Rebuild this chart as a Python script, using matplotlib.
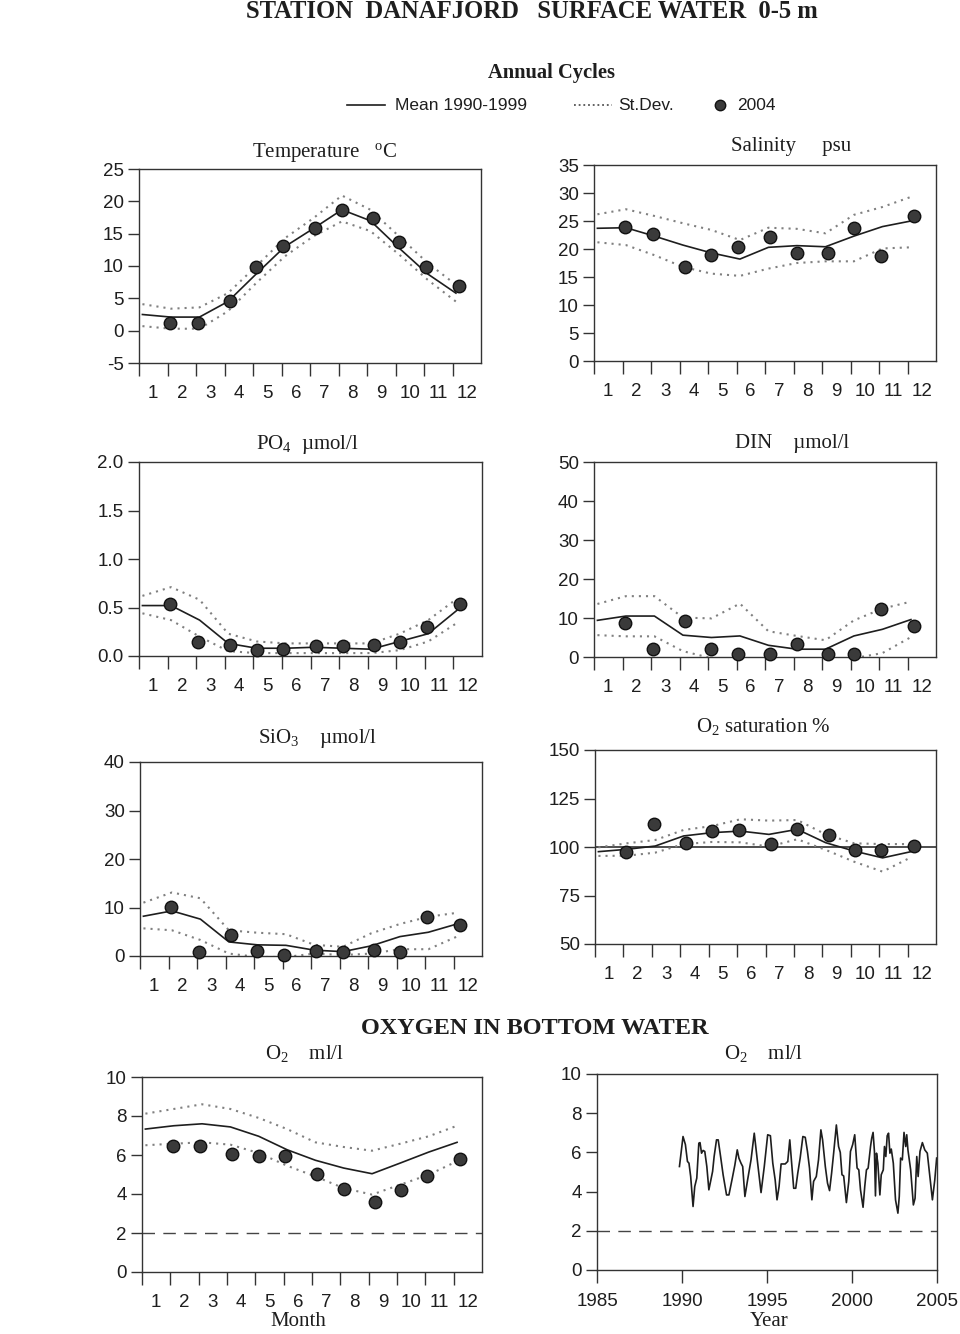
import matplotlib
matplotlib.use("Agg")
import matplotlib.pyplot as plt
from matplotlib.lines import Line2D

plt.rcParams['font.family'] = ['Liberation Sans', 'DejaVu Sans']
plt.rcParams['mathtext.fontset'] = 'custom'
plt.rcParams['mathtext.rm'] = 'Liberation Serif'
plt.rcParams['mathtext.it'] = 'Liberation Serif:italic'
plt.rcParams['axes.unicode_minus'] = False

# month positions: mean 1990-1999 and 2004 sampling dates
mean_x = [0.12, 1.12, 2.12, 3.12, 4.12, 5.12, 6.12, 7.12, 8.12, 9.12, 10.12, 11.12]
obs_x = [1.08, 2.06, 3.19, 4.12, 5.05, 6.19, 7.12, 8.22, 9.14, 10.06, 11.24]
month_labels = ['1', '2', '3', '4', '5', '6', '7', '8', '9', '10', '11', '12']

# temperature oC
temp_mean = [2.5, 2.1, 2.1, 4.5, 8.8, 13.0, 15.8, 18.7, 17.0, 12.8, 8.8, 5.8]
temp_up = [4.1, 3.4, 3.6, 5.8, 10.0, 14.3, 17.4, 20.9, 18.7, 14.6, 10.5, 7.1]
temp_lo = [0.7, 0.3, 0.3, 3.0, 7.4, 11.5, 14.6, 16.9, 15.4, 11.8, 7.9, 4.5]
temp_2004 = [1.2, 1.2, 4.6, 9.9, 13.1, 15.9, 18.6, 17.4, 13.7, 9.8, 6.9]

# salinity psu
sal_mean = [23.7, 23.8, 22.3, 20.7, 19.3, 18.2, 20.3, 20.6, 20.4, 22.3, 24.0, 25.0]
sal_up = [26.2, 27.1, 25.9, 24.6, 23.4, 21.6, 23.8, 23.6, 22.8, 26.1, 27.5, 29.3]
sal_lo = [21.2, 20.7, 18.9, 16.8, 15.6, 15.2, 16.5, 17.5, 17.8, 17.8, 20.1, 20.3]
sal_2004 = [24.0, 22.6, 16.8, 19.0, 20.3, 22.1, 19.2, 19.3, 23.7, 18.8, 25.9]

# PO4 umol/l
po4_mean = [0.52, 0.52, 0.37, 0.13, 0.08, 0.08, 0.09, 0.08, 0.07, 0.15, 0.23, 0.47]
po4_up = [0.62, 0.71, 0.58, 0.23, 0.15, 0.13, 0.13, 0.13, 0.13, 0.23, 0.37, 0.59]
po4_lo = [0.44, 0.37, 0.20, 0.05, 0.03, 0.03, 0.03, 0.03, 0.03, 0.06, 0.15, 0.34]
po4_2004 = [0.54, 0.14, 0.11, 0.06, 0.07, 0.10, 0.10, 0.11, 0.14, 0.30, 0.54]

# DIN umol/l
din_mean = [9.4, 10.5, 10.5, 5.6, 5.0, 5.4, 3.0, 2.0, 2.0, 5.4, 7.1, 9.6]
din_up = [13.6, 15.6, 15.6, 10.1, 9.9, 13.7, 6.6, 5.4, 4.3, 9.4, 12.4, 14.2]
din_lo = [5.6, 5.3, 5.3, 1.5, -0.3, -0.5, -0.5, -0.5, -0.5, -0.3, 1.0, 5.1]
din_2004 = [8.6, 2.1, 9.3, 2.0, 0.7, 0.7, 3.3, 0.7, 0.7, 12.4, 7.9]

# SiO3 umol/l
sio_mean = [8.2, 9.3, 7.6, 2.9, 2.3, 2.2, 1.2, 0.9, 2.1, 4.0, 4.9, 6.6]
sio_up = [11.0, 13.1, 11.9, 5.3, 4.8, 4.5, 2.3, 1.9, 4.7, 6.6, 8.1, 8.9]
sio_lo = [5.7, 5.3, 3.3, 0.5, -0.2, -0.2, 0.5, 0.2, 0.5, 1.4, 1.4, 4.0]
sio_2004 = [10.2, 0.75, 4.3, 1.1, 0.3, 1.1, 0.75, 1.2, 0.9, 8.0, 6.4]

# O2 saturation %
sat_mean = [97.6, 98.8, 100.5, 105.7, 107.4, 108.2, 106.5, 109.1, 102.2, 97.9, 94.4, 97.6]
sat_up = [99.8, 101.9, 103.6, 108.8, 110.8, 114.3, 113.6, 113.9, 106.5, 101.9, 101.5, 101.5]
sat_lo = [95.4, 95.5, 97.1, 101.5, 102.6, 102.4, 100.2, 104.0, 98.5, 92.4, 87.3, 94.7]
sat_2004 = [97.3, 111.9, 101.9, 108.4, 108.8, 101.5, 109.3, 106.2, 98.5, 98.5, 100.7]

# bottom water O2 ml/l
o2b_mean = [7.33, 7.5, 7.6, 7.44, 6.96, 6.27, 5.73, 5.33, 5.04, 5.59, 6.15, 6.65]
o2b_up = [8.12, 8.36, 8.6, 8.36, 7.9, 7.33, 6.65, 6.41, 6.22, 6.58, 6.96, 7.5]
o2b_lo = [6.5, 6.58, 6.65, 6.53, 6.1, 5.45, 4.9, 4.3, 3.97, 4.48, 4.99, 5.68]
o2b_2004 = [6.48, 6.44, 6.07, 5.97, 5.97, 5.03, 4.27, 3.59, 4.19, 4.9, 5.79]

# bottom water O2 ml/l time series
ts_year = [1989.85, 1990.06, 1990.2, 1990.32, 1990.41, 1990.51, 1990.65, 1990.75, 1990.87, 1990.99,
           1991.06, 1991.15, 1991.24, 1991.34, 1991.46, 1991.58, 1991.7, 1991.8, 1991.89, 1992.03,
           1992.13, 1992.27, 1992.42, 1992.62, 1992.76, 1992.96, 1993.11, 1993.25, 1993.35, 1993.47,
           1993.57, 1993.7, 1993.86, 1994.06, 1994.25, 1994.45, 1994.65, 1994.84, 1995.04, 1995.2,
           1995.34, 1995.48, 1995.59, 1995.71, 1995.83, 1996.07, 1996.22, 1996.34, 1996.45, 1996.57,
           1996.69, 1996.81, 1996.95, 1997.11, 1997.25, 1997.38, 1997.5, 1997.64, 1997.74, 1997.9,
           1998.03, 1998.17, 1998.27, 1998.43, 1998.56, 1998.68, 1998.8, 1998.92, 1999.08, 1999.21,
           1999.31, 1999.41, 1999.51, 1999.67, 1999.81, 1999.91, 2000.04, 2000.16, 2000.3, 2000.4,
           2000.5, 2000.65, 2000.75, 2000.85, 2000.95, 2001.09, 2001.16, 2001.24, 2001.32, 2001.38,
           2001.44, 2001.52, 2001.64, 2001.72, 2001.84, 2001.91, 2001.99, 2002.07, 2002.15, 2002.23,
           2002.31, 2002.43, 2002.56, 2002.7, 2002.78, 2002.86, 2002.96, 2003.06, 2003.16, 2003.22,
           2003.29, 2003.45, 2003.61, 2003.71, 2003.81, 2003.89, 2004.0, 2004.14, 2004.28, 2004.43,
           2004.59, 2004.73, 2004.87, 2004.98]
ts_o2 = [5.28, 6.81, 6.4, 5.54, 5.45, 4.77, 3.24, 4.26, 4.69, 6.47,
         6.5, 5.96, 6.1, 6.05, 5.28, 4.09, 4.6, 5.03, 5.79, 6.64,
         6.64, 5.79, 4.85, 3.83, 3.83, 4.69, 5.36, 6.13, 5.7, 5.45,
         5.28, 3.75, 4.6, 5.62, 6.98, 5.45, 3.95, 5.28, 6.9, 6.85,
         5.45, 4.6, 3.58, 4.26, 5.41, 5.41, 5.54, 6.64, 5.45, 4.17,
         4.17, 4.94, 5.71, 6.81, 6.77, 6.05, 5.2, 3.58, 4.52, 4.77,
         5.62, 7.15, 6.64, 5.28, 4.43, 4.05, 4.94, 5.96, 7.4, 6.3,
         6.0, 4.86, 4.8, 3.44, 4.52, 6.05, 6.4, 6.9, 5.2, 5.11,
         4.09, 3.2, 4.26, 5.11, 5.2, 6.3, 6.73, 7.02, 6.05, 3.78,
         5.96, 5.45, 3.83, 4.86, 5.11, 6.3, 5.79, 6.85, 6.98, 5.96,
         6.17, 5.45, 3.58, 2.9, 3.75, 5.71, 5.62, 7.02, 6.3, 6.9,
         6.13, 5.11, 3.32, 3.66, 5.79, 4.77, 6.05, 6.5, 6.13, 5.96,
         4.69, 3.58, 4.6, 5.71]

W, H = 960, 1334
fig = plt.figure(figsize=(W / 100, H / 100), dpi=100)

SERIF = 'Liberation Serif'
INK = '#1e1e1e'
DOT_STYLE = (0, (1, 2.4))
TICK_FS = 13.5


def rect(l, r, t, b):
    return [l / W, 1 - b / H, (r - l) / W, (b - t) / H]


def style_axes(ax):
    for s in ax.spines.values():
        s.set_color('#333333')
        s.set_linewidth(1.0)
    ax.tick_params(axis='both', direction='out', colors='#333333', labelcolor=INK,
                   labelsize=TICK_FS, width=1.0)
    ax.tick_params(axis='x', which='major', length=9.5, pad=7)
    ax.tick_params(axis='y', which='major', length=8, pad=3)


def month_panel(box, mean, up, lo, obs, ylim, yticks, ylabels=None):
    ax = fig.add_axes(rect(*box))
    ax.plot(mean_x, up, ls=DOT_STYLE, color='#808080', lw=1.5)
    ax.plot(mean_x, lo, ls=DOT_STYLE, color='#808080', lw=1.5)
    ax.plot(mean_x, mean, color=INK, lw=1.2)
    ax.plot(obs_x, obs, 'o', ms=9, mfc='#3a3a3a', mec='#111111', mew=1.0,
            clip_on=False, zorder=5)
    ax.set_xlim(0, 12)
    ax.set_ylim(*ylim)
    ax.set_yticks(yticks)
    if ylabels is not None:
        ax.set_yticklabels(ylabels)
    ax.set_xticks(range(12))
    ax.set_xticklabels([])
    ax.set_xticks([m + 0.5 for m in range(12)], minor=True)
    ax.set_xticklabels(month_labels, minor=True)
    style_axes(ax)
    ax.tick_params(axis='x', which='minor', length=0, pad=16, labelsize=TICK_FS,
                   labelcolor=INK)
    return ax


# header
fig.text(532 / W, 1 - 12 / H, 'STATION  DANAFJORD   SURFACE WATER  0-5 m', ha='center',
         va='center', family=SERIF, weight='bold', fontsize=17.7, color=INK)
fig.text(552 / W, 1 - 73 / H, 'Annual Cycles', ha='center', va='center', family=SERIF,
         weight='bold', fontsize=14.8, color=INK)

# legend row
y_leg = 1 - 105 / H
fig.add_artist(Line2D([347 / W, 385 / W], [y_leg, y_leg], color=INK, lw=1.2))
fig.text(395 / W, y_leg, 'Mean 1990-1999', va='center', fontsize=12.5, color=INK)
fig.add_artist(Line2D([574 / W, 612 / W], [y_leg, y_leg], color='#555555', lw=1.3,
                      ls=(0, (1, 1.6))))
fig.text(618 / W, y_leg, 'St.Dev.', va='center', fontsize=12.5, color=INK)
fig.add_artist(Line2D([720 / W], [y_leg], marker='o', ms=7.5, mfc='#3a3a3a', mec='#111111'))
fig.text(737 / W, y_leg, '2004', va='center', fontsize=12.5, color=INK)

# surface panels
month_panel((139, 481, 169, 363), temp_mean, temp_up, temp_lo, temp_2004,
            (-5, 25), [-5, 0, 5, 10, 15, 20, 25])
month_panel((594, 936, 165, 361), sal_mean, sal_up, sal_lo, sal_2004,
            (0, 35), [0, 5, 10, 15, 20, 25, 30, 35])
month_panel((139, 482, 462, 656), po4_mean, po4_up, po4_lo, po4_2004,
            (0, 2), [0, 0.5, 1.0, 1.5, 2.0], ['0.0', '0.5', '1.0', '1.5', '2.0'])
month_panel((594, 936, 462, 657), din_mean, din_up, din_lo, din_2004,
            (0, 50), [0, 10, 20, 30, 40, 50])
month_panel((140, 482, 762, 956), sio_mean, sio_up, sio_lo, sio_2004,
            (0, 40), [0, 10, 20, 30, 40])
ax_sat = month_panel((595, 936, 750, 944), sat_mean, sat_up, sat_lo, sat_2004,
                     (50, 150), [50, 75, 100, 125, 150])
ax_sat.axhline(100, color=INK, lw=1.1, zorder=1)

# bottom water panels
ax_b = month_panel((142, 482, 1077, 1272), o2b_mean, o2b_up, o2b_lo, o2b_2004,
                   (0, 10), [0, 2, 4, 6, 8, 10])
ax_b.axhline(2, color='#444444', lw=1.0, ls=(0, (9, 6)))

ax_t = fig.add_axes(rect(597, 937, 1074, 1270))
ax_t.plot(ts_year, ts_o2, color=INK, lw=1.2)
ax_t.axhline(2, color='#444444', lw=1.0, ls=(0, (9, 6)))
ax_t.set_xlim(1985, 2005)
ax_t.set_ylim(0, 10)
ax_t.set_xticks([1985, 1990, 1995, 2000, 2005])
ax_t.set_yticks([0, 2, 4, 6, 8, 10])
style_axes(ax_t)

# panel titles
titles = [
    (325, 152, 'Temperature   $^{\\mathrm{o}}$C'),
    (791, 147, 'Salinity     psu'),
    (307, 445, 'PO$_{\\mathrm{4}}$  \u00b5mol/l'),
    (792, 443, 'DIN    \u00b5mol/l'),
    (318, 738, 'SiO$_{\\mathrm{3}}$    \u00b5mol/l'),
    (763, 727, 'O$_{\\mathrm{2}}$ saturation %'),
    (305, 1054, 'O$_{\\mathrm{2}}$    ml/l'),
    (764, 1054, 'O$_{\\mathrm{2}}$    ml/l'),
]
for tx, ty, s in titles:
    fig.text(tx / W, 1 - ty / H, s, ha='center', va='center', family=SERIF,
             fontsize=15, color=INK)

fig.text(535 / W, 1 - 1028 / H, 'OXYGEN IN BOTTOM WATER', ha='center', va='center',
         family=SERIF, weight='bold', fontsize=17.5, color=INK)
fig.text(298 / W, 1 - 1322 / H, 'Month', ha='center', va='center', family=SERIF,
         fontsize=15, color=INK)
fig.text(769 / W, 1 - 1322 / H, 'Year', ha='center', va='center', family=SERIF,
         fontsize=15, color=INK)

fig.savefig('out.png', dpi=100)
